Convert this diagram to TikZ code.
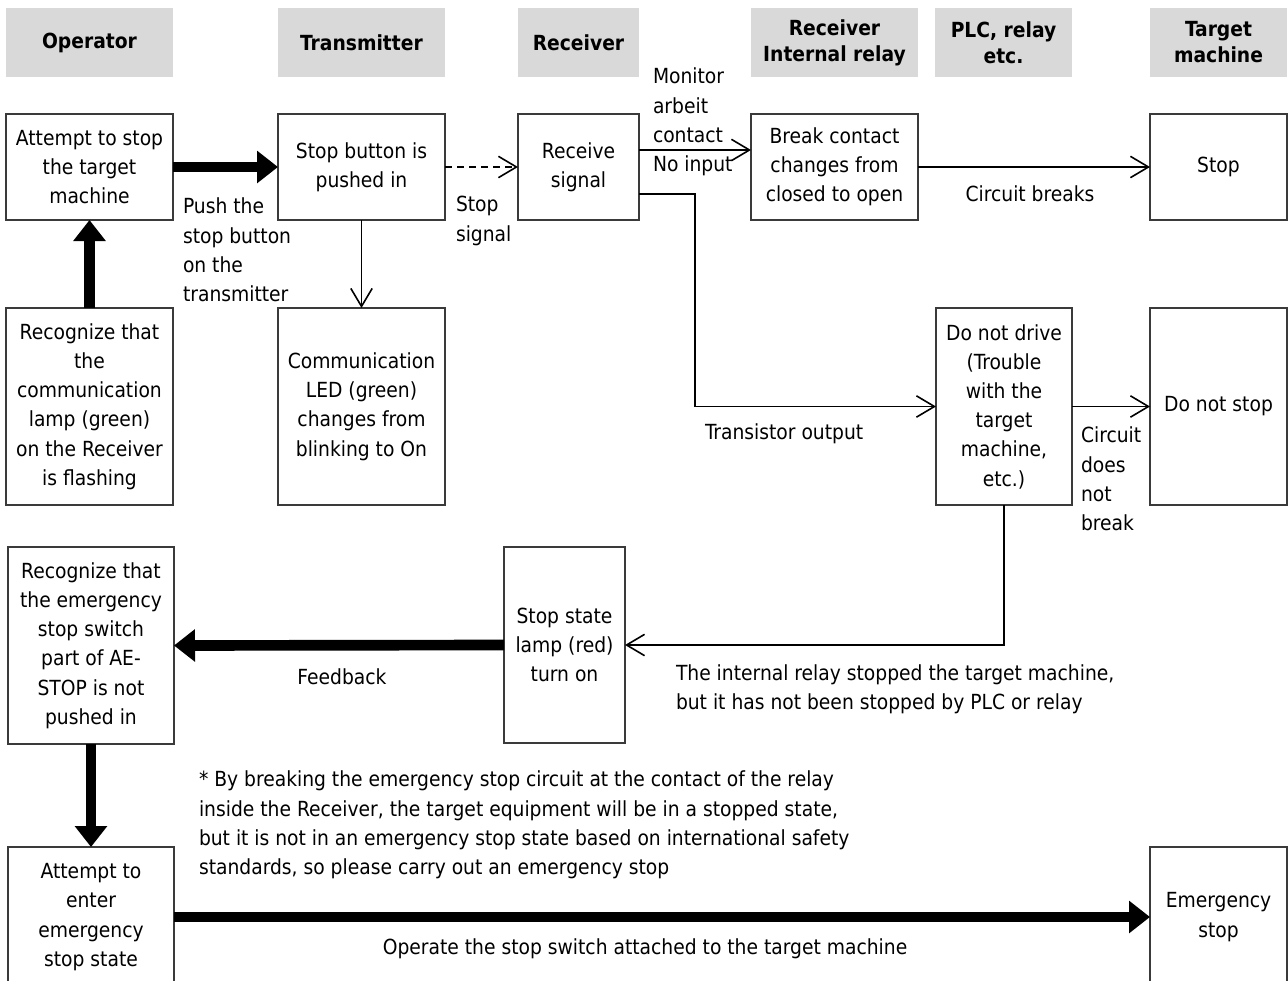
\documentclass[tikz,border=0pt]{standalone}
\usepackage{fontspec}
\setmainfont{DejaVu Sans Condensed}[BoldFont={DejaVu Sans Condensed Bold}]
\usetikzlibrary{arrows.meta}
\definecolor{hdrgray}{HTML}{D9D9D9}
\definecolor{boxgray}{HTML}{3A3A3A}
\begin{document}
\begin{tikzpicture}[x=0.75pt,y=-0.75pt,
  every node/.style={font=\fontsize{15.6}{21.9}\selectfont, inner sep=0pt, outer sep=0pt, text=black},
  hdr/.style={fill=hdrgray, font=\fontsize{15.6}{19.5}\selectfont\bfseries, align=center},
  box/.style={draw=boxgray, line width=1pt, fill=white, align=center},
  sz/.style 2 args={minimum width=#1*0.75pt, minimum height=#2*0.75pt},
  lbl/.style={align=left, anchor=west},
  conn/.style={line width=1.2pt, -{Straight Barb[length=13.5pt,width=16pt,line width=1.2pt]}},
  dashconn/.style={conn, dash pattern=on 5.25pt off 3.75pt},
  bigarrow/.style={line width=8pt, -{Triangle[length=15.75pt,width=23.5pt]}},
]
\useasboundingbox (0,0) rectangle (1288,981);
\clip (0,0) rectangle (1288,981);

% headers
\node[hdr, sz={167}{69}] (h1) at (89.5,42.5) {Operator};
\node[hdr, sz={167}{69}] (h2) at (361.5,42.5) {Transmitter};
\node[hdr, sz={121}{69}] (h3) at (578.5,42.5) {Receiver};
\node[hdr, sz={167}{69}] (h4) at (834.5,42.5) {Receiver\\Internal relay};
\node[hdr, sz={137}{69}] (h5) at (1003.5,42.5) {PLC, relay\\etc.};
\node[hdr, sz={137}{69}] (h6) at (1218.5,42.5) {Target\\machine};

% boxes
\node[box, sz={167}{106}] (op1) at (89.5,167) {Attempt to stop\\the target\\machine};
\node[box, sz={167}{106}] (tx) at (361.5,167) {Stop button is\\pushed in};
\node[box, sz={121}{106}] (rcv) at (578.5,167) {Receive\\signal};
\node[box, sz={167}{106}] (brk) at (834.5,167) {Break contact\\changes from\\closed to open};
\node[box, sz={137}{106}] (stop) at (1218.5,167) {Stop};
\node[box, sz={167}{197}] (rec1) at (89.5,406.5) {Recognize that\\the\\communication\\lamp (green)\\on the Receiver\\is flashing};
\node[box, sz={167}{197}] (comm) at (361.5,406.5) {Communication\\LED (green)\\changes from\\blinking to On};
\node[box, sz={136}{197}] (dnd) at (1004,406.5) {Do not drive\\(Trouble\\with the\\target\\machine,\\etc.)};
\node[box, sz={137}{197}] (dns) at (1218.5,406.5) {Do not stop};
\node[box, sz={166}{197}] (rec2) at (91,645.5) {Recognize that\\the emergency\\stop switch\\part of AE-\\STOP is not\\pushed in};
\node[box, sz={121}{196}] (lamp) at (564.5,645) {Stop state\\lamp (red)\\turn on};
\node[box, sz={166}{140}] (att2) at (91,917) {Attempt to\\enter\\emergency\\stop state};
\node[box, sz={137}{140}] (emg) at (1218.5,917) {Emergency\\stop};

% connectors
\draw[bigarrow] (op1.east) -- (tx.west);
\draw[bigarrow] (rec1.north) -- (op1.south);
\draw[dashconn] (tx.east) -- (rcv.west);
\draw[conn] (tx.south) -- (comm.north);
\draw[conn] (rcv.east |- 0,150) -- (brk.west |- 0,150);
\draw[conn] (rcv.east |- 0,194) -- (695,194) |- (dnd.west);
\draw[conn] (brk.east) -- (stop.west);
\draw[conn] (dnd.east) -- (dns.west);
\draw[conn] (dnd.south) |- (lamp.east);
\draw[bigarrow] (lamp.west) -- (rec2.east);
\draw[bigarrow] (rec2.south) -- (att2.north);
\draw[bigarrow] (att2.east) -- (emg.west);

% labels
\node[lbl] (l1) at (183,250) {Push the\\stop button\\on the\\transmitter};
\node[lbl] (l2) at (456,221) {Stop\\signal};
\node[lbl] (l3) at (653,122) {Monitor\\arbeit\\contact\\No input};
\node (l4) at (1030,194) {Circuit breaks};
\node[lbl] (l5) at (705,434) {Transistor output};
\node[lbl] (l6) at (1081,479) {Circuit\\does\\not\\break};
\node[lbl] (l7) at (676,689) {The internal relay stopped the target machine,\\but it has not been stopped by PLC or relay};
\node (l8) at (342,677) {Feedback};
\node[lbl] (l9) at (199,825) {* By breaking the emergency stop circuit at the contact of the relay\\inside the Receiver, the target equipment will be in a stopped state,\\but it is not in an emergency stop state based on international safety\\standards, so please carry out an emergency stop};
\node (l10) at (645,949) {Operate the stop switch attached to the target machine};
\end{tikzpicture}
\end{document}
